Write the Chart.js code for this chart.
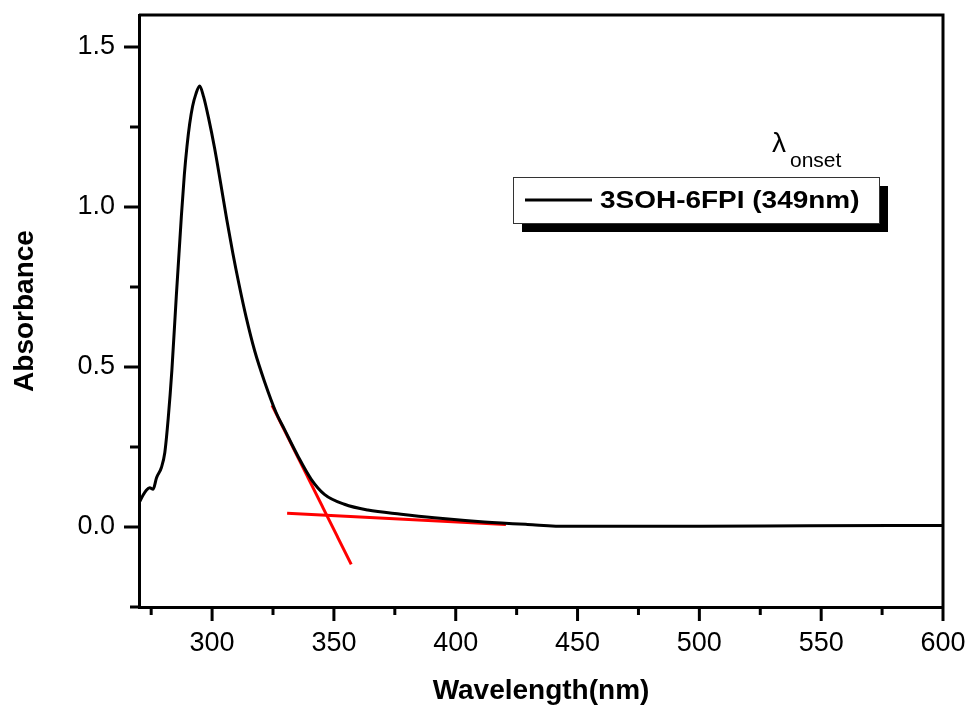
<!DOCTYPE html>
<html>
<head>
<meta charset="utf-8">
<script src="https://cdn.jsdelivr.net/npm/chart.js@4.4.1/dist/chart.umd.min.js"></script>
<style>
  html, body { margin: 0; padding: 0; background: #fff; }
  #wrap { width: 973px; height: 708px; position: relative; }
</style>
</head>
<body>
<div id="wrap"><canvas id="chart"></canvas></div>
<script>
const seriesLabel = '3SOH-6FPI (349nm)'

const wavelength = [
  270, 271.7, 273, 274.4, 275.8, 277.2, 279.2, 280.6, 282.0, 283.5, 285.3,
  287.4, 288.6, 289.7, 290.8, 292.0, 293.3, 294.9, 296.5, 298.5, 301, 303.5,
  306, 308.5, 311, 314, 317.5, 321.5, 326.3, 329.7, 335.2, 340.7, 346.1, 354.3,
  363.9, 377.6, 391.2, 411.7, 429.5, 446, 500, 545, 600
]
const absorbance = [
  0.075, 0.100, 0.115, 0.123, 0.118, 0.154, 0.186, 0.233, 0.340, 0.490, 0.720,
  0.972, 1.100, 1.190, 1.260, 1.315, 1.352, 1.378, 1.345, 1.280, 1.185, 1.075,
  0.962, 0.856, 0.760, 0.655, 0.550, 0.455, 0.357, 0.305, 0.222, 0.149, 0.102, 0.071,
  0.053, 0.040, 0.029, 0.016, 0.008, 0.002, 0.002, 0.004, 0.005
]

// tangent lines used for the onset estimate
const steepX = [324.6, 357.1]
const steepY = [0.380, -0.117]
const baseX = [330.8, 420.6]
const baseY = [0.043, 0.008]

const xMajorTicks = [300, 350, 400, 450, 500, 550, 600]
const yMajorTicks = [0.0, 0.5, 1.0, 1.5]

const FONT = 'Liberation Sans, Arial, sans-serif'

const toPoints = (xs, ys) => xs.map((x, i) => ({x: x, y: ys[i]}))

const isMajor = (list, value) => list.some(v => Math.abs(v - value) < 1e-9)

// text drawn slightly wider than the font, like the original export
const wideText = (ctx, text, x, y, stretch) => {
  ctx.save()
  ctx.translate(x, y)
  ctx.scale(stretch, 1)
  ctx.fillText(text, 0, 0)
  ctx.restore()
}

const framePlugin = {
  id: 'frame',
  afterDraw(chart) {
    const {ctx, chartArea} = chart
    const xScale = chart.scales.x
    const yScale = chart.scales.y
    ctx.save()
    ctx.strokeStyle = '#000'
    ctx.lineWidth = 3
    ctx.lineCap = 'butt'

    // top and right border
    ctx.beginPath()
    ctx.moveTo(chartArea.left, chartArea.top)
    ctx.lineTo(chartArea.right, chartArea.top)
    ctx.lineTo(chartArea.right, chartArea.bottom)
    ctx.stroke()

    // outward ticks, long for major, short for minor
    yScale.ticks.forEach(t => {
      const y = yScale.getPixelForValue(t.value)
      const len = isMajor(yMajorTicks, t.value) ? 15 : 9
      ctx.beginPath()
      ctx.moveTo(chartArea.left, y)
      ctx.lineTo(chartArea.left - len, y)
      ctx.stroke()
    })
    xScale.ticks.forEach(t => {
      const x = xScale.getPixelForValue(t.value)
      const len = isMajor(xMajorTicks, t.value) ? 14 : 8
      ctx.beginPath()
      ctx.moveTo(x, chartArea.bottom)
      ctx.lineTo(x, chartArea.bottom + len)
      ctx.stroke()
    })

    // legend box with drop shadow
    const bx = chartArea.left + 374
    const by = chartArea.top + 162
    const bw = 366
    const bh = 46
    ctx.fillStyle = '#000'
    ctx.fillRect(bx + 9, by + 9, bw, bh)
    ctx.fillStyle = '#fff'
    ctx.fillRect(bx, by, bw, bh)
    ctx.lineWidth = 1
    ctx.strokeStyle = '#333'
    ctx.strokeRect(bx + 0.5, by + 0.5, bw, bh)

    const ds = chart.data.datasets[0]
    ctx.strokeStyle = ds.borderColor
    ctx.lineWidth = 3
    ctx.beginPath()
    ctx.moveTo(bx + 12, by + 23)
    ctx.lineTo(bx + 79, by + 23)
    ctx.stroke()

    ctx.fillStyle = '#000'
    ctx.font = 'bold 24px ' + FONT
    ctx.textBaseline = 'alphabetic'
    ctx.textAlign = 'left'
    wideText(ctx, ds.label, bx + 87, by + 31, 1.165)

    // lambda onset note
    ctx.font = '28px ' + FONT
    ctx.fillText('\u03bb', chartArea.left + 633, chartArea.top + 137)
    ctx.font = '21px ' + FONT
    ctx.fillText('onset', chartArea.left + 651, chartArea.top + 152)
    ctx.restore()
  }
}

new Chart(document.getElementById('chart'), {
  type: 'scatter',
  data: {
    datasets: [
      {
        label: seriesLabel,
        data: toPoints(wavelength, absorbance),
        showLine: true,
        borderColor: '#000',
        borderWidth: 3,
        pointRadius: 0,
        cubicInterpolationMode: 'monotone'
      },
      {
        label: 'tangent',
        data: toPoints(steepX, steepY),
        showLine: true,
        borderColor: '#ff0000',
        borderWidth: 3,
        pointRadius: 0
      },
      {
        label: 'baseline',
        data: toPoints(baseX, baseY),
        showLine: true,
        borderColor: '#ff0000',
        borderWidth: 3,
        pointRadius: 0
      }
    ]
  },
  options: {
    responsive: true,
    maintainAspectRatio: false,
    animation: false,
    layout: { padding: { top: 15, right: 30, left: 0, bottom: 0 } },
    plugins: {
      legend: { display: false },
      tooltip: { enabled: false }
    },
    scales: {
      x: {
        type: 'linear',
        min: 270,
        max: 600,
        afterFit(scale) {
          scale.height = 101
          scale.paddingLeft = 0
          scale.paddingRight = 0
        },
        border: { display: true, color: '#000', width: 3 },
        grid: { display: true, drawOnChartArea: false, drawTicks: true, tickLength: 14, tickColor: 'rgba(0,0,0,0)' },
        ticks: {
          stepSize: 25,
          includeBounds: false,
          autoSkip: false,
          maxRotation: 0,
          padding: 6,
          color: '#000',
          font: { family: FONT, size: 27 },
          callback: (value) => isMajor(xMajorTicks, value) ? String(value) : ''
        },
        title: {
          display: true,
          text: 'Wavelength(nm)',
          color: '#000',
          font: { family: FONT, size: 28, weight: 'bold', lineHeight: 1 },
          padding: { top: 0, bottom: 3 }
        }
      },
      y: {
        type: 'linear',
        min: -0.25,
        max: 1.6,
        afterFit(scale) {
          scale.width = 139
          scale.paddingTop = 0
          scale.paddingBottom = 0
        },
        border: { display: true, color: '#000', width: 3 },
        grid: { display: true, drawOnChartArea: false, drawTicks: true, tickLength: 15, tickColor: 'rgba(0,0,0,0)' },
        ticks: {
          stepSize: 0.25,
          includeBounds: false,
          autoSkip: false,
          padding: 9,
          color: '#000',
          font: { family: FONT, size: 27 },
          callback: (value) => isMajor(yMajorTicks, value) ? value.toFixed(1) : ''
        },
        title: {
          display: true,
          text: 'Absorbance',
          color: '#000',
          font: { family: FONT, size: 28, weight: 'bold', lineHeight: 1 },
          padding: { top: 11, bottom: 0 }
        }
      }
    }
  },
  plugins: [framePlugin]
})
</script>
</body>
</html>
